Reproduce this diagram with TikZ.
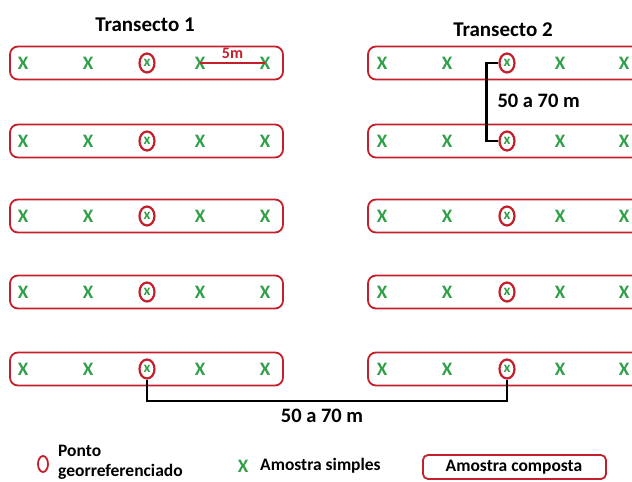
\documentclass[tikz,border=0pt]{standalone}
\usepackage{fontspec}
\setmainfont{Carlito}
\usetikzlibrary{shapes.geometric}
\definecolor{sampred}{RGB}{196,32,44}
\definecolor{xgreen}{RGB}{48,160,72}
\begin{document}
\begin{tikzpicture}[x=1pt,y=-1pt,
  compbox/.style={draw=sampred, line width=1.8pt, rounded corners=8pt,
    minimum width=273pt, minimum height=33pt, inner sep=0pt},
  xmark/.style={text=xgreen, font=\bfseries\fontsize{19}{19}\selectfont, inner sep=0pt},
  georef/.style={ellipse, draw=sampred, line width=2.2pt, minimum width=15pt,
    minimum height=19pt, inner sep=0pt, text=xgreen,
    font=\bfseries\fontsize{15}{15}\selectfont},
  bracket/.style={draw=black, line width=2.8pt},
  title/.style={font=\bfseries\fontsize{21}{21}\selectfont},
  dist/.style={font=\bfseries\fontsize{20.5}{20.5}\selectfont},
  legend/.style={font=\bfseries\fontsize{17.5}{17.5}\selectfont, inner sep=0pt}]
\useasboundingbox (0,0) rectangle (632,482);
\clip (0,0) rectangle (632,482);
\fill[white] (0,0) rectangle (632,482);

% titles
\node[title] (t1) at (145,25) {Transecto 1};
\node[title] (t2) at (503,30) {Transecto 2};

% rows of composite samples
\foreach \r/\y in {1/63,2/141,3/216,4/292,5/369}{
  % left transect
  \node[compbox] (L\r) at (146.5,\y) {};
  \node[xmark] (La\r) at (23,\y) {X};
  \node[xmark] (Lb\r) at (88,\y) {X};
  \node[georef] (cL\r) at (147,\y) {x};
  \node[xmark] (Ld\r) at (200,\y) {X};
  \node[xmark] (Le\r) at (265,\y) {X};
  % right transect
  \node[compbox] (R\r) at (504.5,\y) {};
  \node[xmark] (Ra\r) at (382,\y) {X};
  \node[xmark] (Rb\r) at (447,\y) {X};
  \node[georef] (cR\r) at (507,\y) {x};
  \node[xmark] (Rd\r) at (560,\y) {X};
  \node[xmark] (Re\r) at (624,\y) {X};
}

% 5 m spacing between simple samples
\draw[draw=sampred, line width=1.4pt] (Ld1.center) -- (Le1.center)
  node[midway, above=0pt, text=sampred, font=\bfseries\fontsize{16}{16}\selectfont] (five) {5m};

% distance between composite samples in a transect
\draw[bracket] (cR1.west) -- ++(-12,0) |- (cR2.west);
\node[dist, anchor=west] (dv) at (494,101) {50 a 70 m};

% distance between transects
\coordinate (base) at (0,401);
\draw[bracket] (cL5.south) |- (base -| cR5.south) -- (cR5.south);
\node[dist] (dh) at (322,416) {50 a 70 m};

% legend
\node[ellipse, draw=sampred, line width=1.8pt, minimum width=10pt,
  minimum height=16pt, inner sep=0pt] (lgo) at (43,464) {};
\node[legend, anchor=west] (lgp1) at (58,451) {Ponto};
\node[legend, anchor=west] (lgp2) at (58,472) {georreferenciado};
\node[xmark] (lgx) at (243,466) {X};
\node[legend, anchor=west] (lgs) at (260,466) {Amostra simples};
\node[draw=sampred, line width=1.8pt, rounded corners=5pt, minimum width=183pt,
  minimum height=24pt, inner sep=0pt] (lgc) at (514.5,467) {};
\node[legend] (lgct) at (514,467) {Amostra composta};
\end{tikzpicture}
\end{document}
